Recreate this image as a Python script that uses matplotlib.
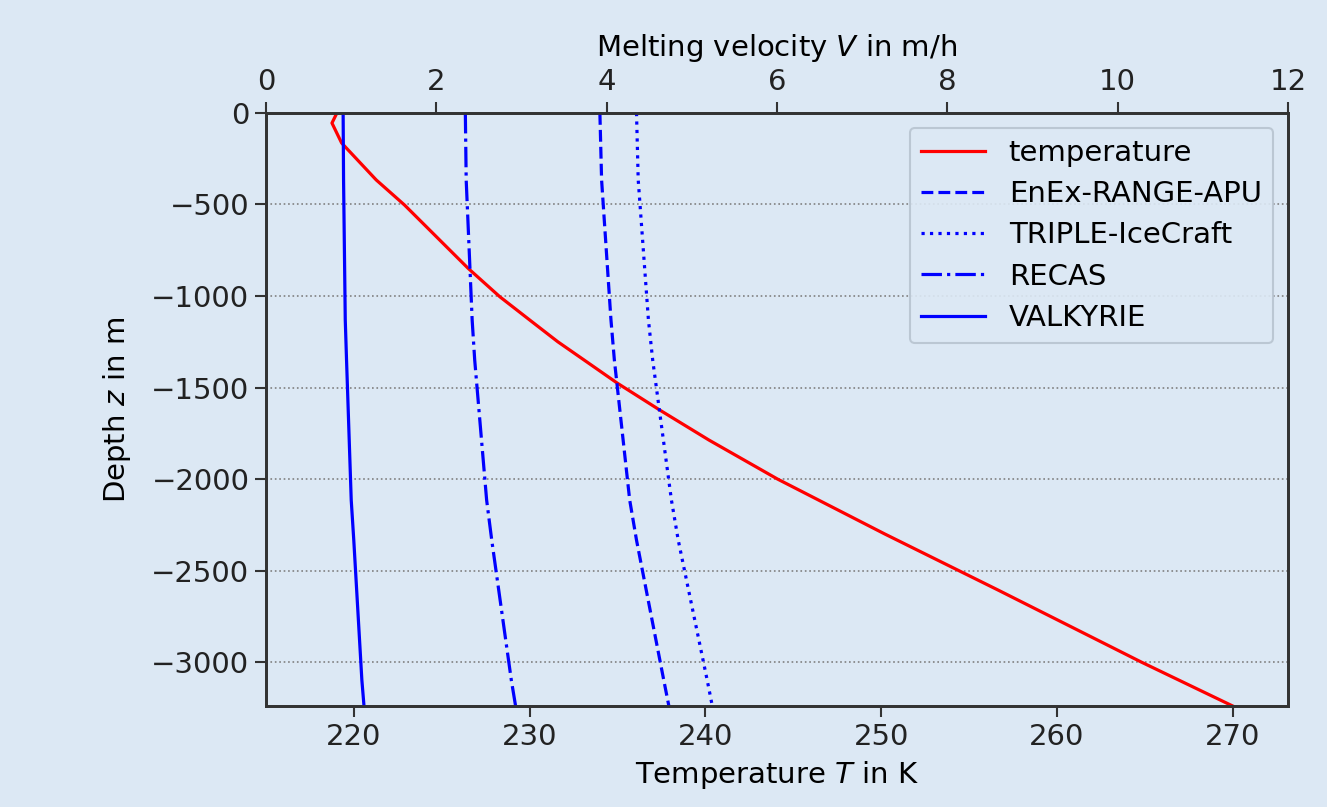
import matplotlib
matplotlib.use("Agg")
import matplotlib.pyplot as plt

# Temperature profile (depth in m, temperature in K)
temp_depth = [0, -55, -164, -366, -503, -849, -1004, -1131, -1250, -1350, -1477, -1623,
              -1787, -2000, -2300, -2607, -3000, -3240]
temp_values = [219.03, 218.75, 219.3, 221.27, 222.88, 226.5, 228.3, 230.0, 231.6, 233.1,
               235.0, 237.4, 240.2, 244.1, 250.2, 256.66, 264.8, 270.0]

# Melting velocities (depth in m, velocity in m/h)
vel_depth = [0, -366, -1131, -1350, -2115, -2334, -3099, -3240]
enex_v = [3.92, 3.94, 4.05, 4.09, 4.27, 4.35, 4.67, 4.73]
triple_v = [4.35, 4.37, 4.49, 4.54, 4.76, 4.84, 5.18, 5.24]
recas_v = [2.34, 2.35, 2.42, 2.45, 2.59, 2.65, 2.88, 2.93]
valkyrie_v = [0.905, 0.91, 0.93, 0.945, 1.0, 1.03, 1.125, 1.15]

bg = "#dce8f4"
fs = 21
plt.rcParams["font.family"] = ["DejaVu Sans"]
plt.rcParams["font.size"] = fs

fig = plt.figure(figsize=(13.27, 8.07), dpi=100, facecolor=bg)
ax = fig.add_axes([0.2005, 0.1252, 0.7701, 0.7348])
ax.set_facecolor(bg)
ax2 = ax.twiny()

l1, = ax.plot(temp_values, temp_depth, color="red", lw=2.3, label="temperature")
l2, = ax2.plot(enex_v, vel_depth, color="blue", lw=2.3, ls="--", label="EnEx-RANGE-APU")
l3, = ax2.plot(triple_v, vel_depth, color="blue", lw=2.3, ls=":", label="TRIPLE-IceCraft")
l4, = ax2.plot(recas_v, vel_depth, color="blue", lw=2.3, ls="-.", label="RECAS")
l5, = ax2.plot(valkyrie_v, vel_depth, color="blue", lw=2.3, ls="-", label="VALKYRIE")

ax.set_xlim(215, 273.15)
ax.set_ylim(-3240, 0)
ax2.set_xlim(0, 12)
ax.set_xticks([220, 230, 240, 250, 260, 270])
ax.set_yticks([0, -500, -1000, -1500, -2000, -2500, -3000])
ax2.set_xticks([0, 2, 4, 6, 8, 10, 12])

ax.yaxis.grid(True, color="gray", ls=":", lw=1.2)
ax.set_axisbelow(True)

ax.set_xlabel("Temperature $T$ in K", fontsize=fs, labelpad=6)
ax.set_ylabel("Depth $z$ in m", fontsize=fs, labelpad=13)
ax2.set_xlabel("Melting velocity $V$ in m/h", fontsize=fs, labelpad=9)

for a in (ax, ax2):
    a.tick_params(labelsize=fs, length=8, width=1.5, colors="#333333", labelcolor="#222222",
                  pad=4)
    for s in a.spines.values():
        s.set_linewidth(2)
        s.set_color("#333333")

leg = ax2.legend(handles=[l1, l2, l3, l4, l5], loc="upper right", fontsize=fs,
                 facecolor=bg, edgecolor="#b8c4d0", framealpha=0.9,
                 handlelength=2.2, borderaxespad=0.5, labelspacing=0.45)
leg.get_frame().set_linewidth(1.5)

fig.savefig("out.png", dpi=100, facecolor=bg)
